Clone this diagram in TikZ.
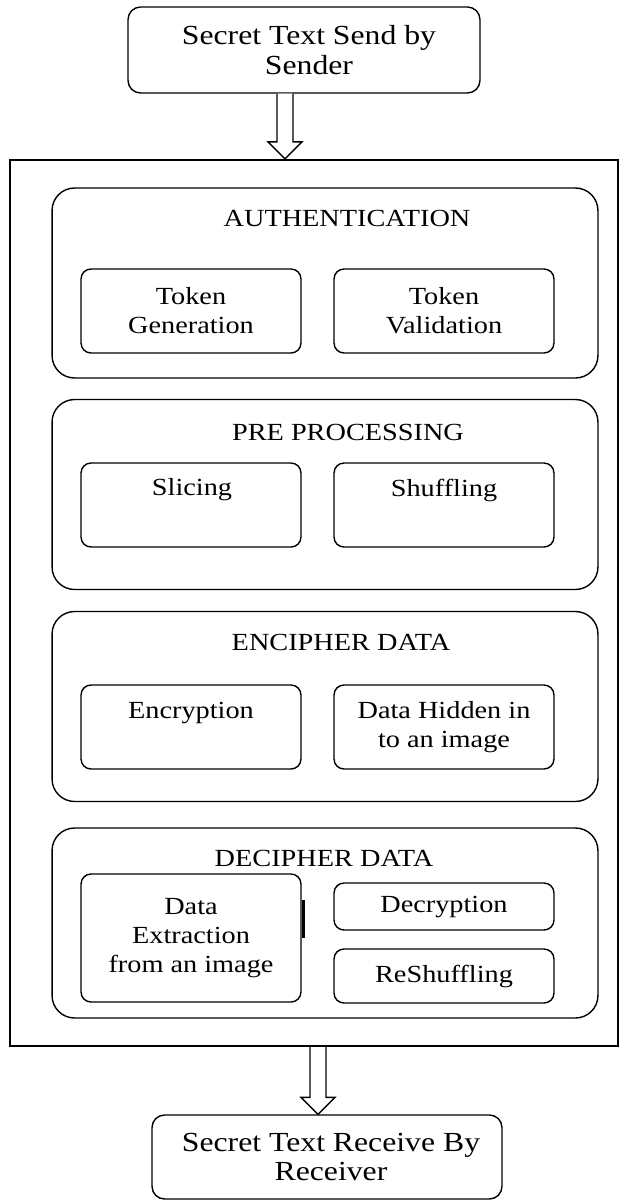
\documentclass[tikz,border=0pt]{standalone}
\usepackage{fontspec}
\setmainfont{Liberation Serif}[FakeStretch=1.15]
\usetikzlibrary{calc}

\tikzset{
  txt/.style={align=center, font=\fontsize{14}{16.5}\selectfont, inner sep=0pt},
  bigtxt/.style={txt, font=\fontsize{15.7}{16.8}\selectfont},
  endbox/.style={draw, line width=0.8pt, rounded corners=0.25cm},
  frame/.style={draw, line width=1.3pt, minimum width=12.16cm, minimum height=17.72cm},
  group/.style={draw, line width=0.8pt, rounded corners=0.45cm, minimum width=10.92cm, minimum height=3.8cm},
  task/.style={txt, draw, line width=0.8pt, rounded corners=0.2cm, minimum width=4.4cm, minimum height=1.68cm},
}

% hollow arrow going down from #1 to #2
\newcommand{\hollowdown}[2]{%
  \draw[line width=0.8pt, fill=white] ($(#1)+(-8,0)$) -- ($(#2)+(-8,-17)$) -- ($(#2)+(-17,-17)$)
    -- (#2) -- ($(#2)+(17,-17)$) -- ($(#2)+(8,-17)$) -- ($(#1)+(8,0)$);}

\begin{document}
\begin{tikzpicture}[x=0.02cm, y=-0.02cm]
    \useasboundingbox (0,0) rectangle (627,1200);

    %sender and receiver
    \node[endbox, minimum width=7.04cm, minimum height=1.72cm] (send) at (304,50) {};
    \node[bigtxt] (sendtxt) at (309,50) {Secret Text Send by\\Sender};
    \node[endbox, minimum width=7.0cm, minimum height=1.68cm] (receive) at (327,1157) {};
    \node[bigtxt] (receivetxt) at (331,1157) {Secret Text Receive By\\Receiver};

    %outer frame
    \node[frame] (frame) at (314,603) {};

    %authentication
    \node[group] (auth) at (325,283) {};
    \node[txt] (authtitle) at (347,218) {AUTHENTICATION};
    \node[task] (tokgen) at (191,311) {Token\\Generation};
    \node[task] (tokval) at (444,311) {Token\\Validation};

    %pre processing
    \node[group] (prep) at (325,494.5) {};
    \node[txt] (preptitle) at (348,432) {PRE PROCESSING};
    \node[task] (slice) at (191,505) {};
    \node[txt] (slicetxt) at (192,490) {Slicing};
    \node[task] (shuffle) at (444,505) {};
    \node[txt] (shuffletxt) at (444,490) {Shuffling};

    %encipher
    \node[group] (enc) at (325,706.5) {};
    \node[txt] (enctitle) at (341,642) {ENCIPHER DATA};
    \node[task] (encrypt) at (191,727) {};
    \node[txt] (encrypttxt) at (191,713) {Encryption};
    \node[task] (hide) at (444,727) {Data Hidden in\\to an image};

    %decipher
    \node[group] (dec) at (325,923) {};
    \node[txt] (dectitle) at (324,858) {DECIPHER DATA};
    \node[task, minimum height=2.56cm] (extract) at (191,938) {Data\\Extraction\\from an image};
    \draw[line width=1.6pt] ($(extract.east)+(1.5,-38)$) -- ($(extract.east)+(1.5,0)$);
    \node[task, minimum height=0.94cm] (decrypt) at (444,906.5) {};
    \node[txt] (decrypttxt) at (444,907) {Decryption};
    \node[task, minimum height=1.08cm] (reshuffle) at (444,976) {ReShuffling};

    %arrows
    \coordinate (tailin) at ($(send.south)+(-19,0)$);
    \coordinate (tipin) at (tailin |- frame.north);
    \coordinate (tailout) at ($(frame.south)+(4,0)$);
    \coordinate (tipout) at (tailout |- receive.north);
    \hollowdown{tailin}{tipin}
    \hollowdown{tailout}{tipout}
\end{tikzpicture}
\end{document}
